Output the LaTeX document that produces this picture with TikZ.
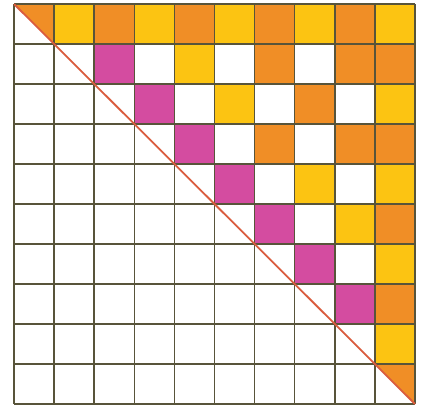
\documentclass[tikz,border=0pt]{standalone}
\definecolor{cOr}{RGB}{240,142,38}
\definecolor{cYe}{RGB}{252,196,18}
\definecolor{cMa}{RGB}{212,76,160}
\definecolor{cGrid}{RGB}{88,84,58}
\definecolor{cDiag}{RGB}{218,92,62}
\tikzset{
  gridline/.style={draw=cGrid, line width=1.5pt},
  diagline/.style={draw=cDiag, line width=1.8pt},
}
\begin{document}
\begin{tikzpicture}[x=1pt,y=-1pt]
\useasboundingbox (0,0) rectangle (427,407);
\fill[white] (0,0) rectangle (427,407);
\begin{scope}[shift={(14,4)}, x=40.1pt, y=-40pt]
  % orange cells (col/row)
  \foreach \c/\r in {2/0,4/0,6/0,8/0,6/1,8/1,9/1,7/2,6/3,8/3,9/3,9/5,9/7}
    \fill[cOr] (\c,\r) rectangle ++(1,1);
  % yellow cells
  \foreach \c/\r in {1/0,3/0,5/0,7/0,9/0,4/1,5/2,9/2,7/4,9/4,8/5,9/6,9/8}
    \fill[cYe] (\c,\r) rectangle ++(1,1);
  % magenta cells
  \foreach \r in {1,...,7}
    \fill[cMa] ({\r+1},\r) rectangle ++(1,1);
  % corner triangles
  \fill[cOr] (0,0) -- (1,0) -- (1,1) -- cycle;
  \fill[cOr] (9,9) -- (10,9) -- (10,10) -- cycle;
  % grid
  \foreach \i in {0,...,10} {
    \draw[gridline] (\i,0) -- (\i,10);
    \draw[gridline] (0,\i) -- (10,\i);
  }
  % diagonal
  \coordinate (tl) at (0,0);
  \coordinate (br) at (10,10);
  \draw[diagline] (tl) -- (br);
\end{scope}
\end{tikzpicture}
\end{document}
